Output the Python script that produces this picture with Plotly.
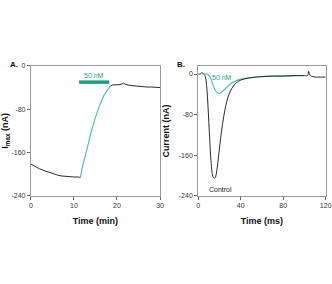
import plotly.graph_objects as go

# ---------- Panel A data (time in min, Imax in nA) ----------
a_pre_t = [0, 1, 2, 3, 4, 5, 6, 7, 8, 9, 10, 11, 11.5]
a_pre_v = [-181, -186, -190, -193, -196, -199, -201, -203, -204, -205, -205, -205, -206]
a_drug_t = [11.5, 12, 13, 14, 15, 16, 17, 18, 18.5]
a_drug_v = [-206, -185, -155, -122, -95, -72, -54, -41, -37]
a_post_t = [18.5, 19, 20, 21, 21.5, 22, 23, 24, 25, 26, 27, 28, 29, 30]
a_post_v = [-37, -35, -35, -34, -32, -34, -36, -37, -38, -38, -39, -39, -40, -40]
a_bar_t = [11.2, 18.2]
a_bar_v = [-30, -30]

# ---------- Panel B data (time in ms, current in nA) ----------
b_ctrl_t = [0, 2, 3, 4, 5, 6, 7, 8, 9, 10, 11, 12, 13, 14, 15, 16, 17, 18, 19, 20,
            22, 24, 26, 28, 30, 33, 36, 40, 45, 50, 60, 70, 80, 90, 100, 103, 104,
            105, 106, 108, 110, 115, 120]
b_ctrl_v = [0, 0, 2, 2, 0, -2, -8, -25, -55, -95, -135, -170, -193, -203, -205, -204,
            -197, -183, -165, -146, -112, -84, -62, -46, -35, -24, -17, -12, -9, -7,
            -5, -4, -4, -3, -3, -3, 5, -1, -4, -5, -6, -6, -6]
b_drug_t = [5, 8, 10, 12, 14, 16, 18, 20, 22, 24, 27, 30, 35, 40, 50, 60, 80, 100]
b_drug_v = [0, 0, -3, -10, -22, -32, -37, -38, -36, -32, -26, -20, -14, -10, -7, -5, -4, -3]

a_xticks = [0, 10, 20, 30]
a_yticks = [0, -80, -160, -240]
b_xticks = [0, 40, 80, 120]
b_yticks = [0, -80, -160, -240]

BLACK = "#2b2b2b"
TEAL = "#4fc4b0"
TEAL_DARK = "#1c9e82"
FONT = "Liberation Sans"

fig = go.Figure()
fig.add_trace(go.Scatter(x=a_pre_t, y=a_pre_v, mode="lines", line=dict(color=BLACK, width=1), xaxis="x", yaxis="y"))
fig.add_trace(go.Scatter(x=a_drug_t, y=a_drug_v, mode="lines", line=dict(color=TEAL, width=1.2), xaxis="x", yaxis="y"))
fig.add_trace(go.Scatter(x=a_post_t, y=a_post_v, mode="lines", line=dict(color=BLACK, width=1), xaxis="x", yaxis="y"))
fig.add_trace(go.Scatter(x=a_bar_t, y=a_bar_v, mode="lines", line=dict(color=TEAL_DARK, width=3.5), xaxis="x", yaxis="y"))

fig.add_trace(go.Scatter(x=b_drug_t, y=b_drug_v, mode="lines", line=dict(color=TEAL, width=1.2, shape="spline"), xaxis="x2", yaxis="y2"))
fig.add_trace(go.Scatter(x=b_ctrl_t, y=b_ctrl_v, mode="lines", line=dict(color=BLACK, width=1, shape="spline"), xaxis="x2", yaxis="y2"))

tickfont = dict(family=FONT, size=7, color="#333")
titlefont = dict(family=FONT, size=9, color="#111")
common = dict(showgrid=False, zeroline=False, showline=True, mirror=True, linecolor="#9a9a9a",
              linewidth=1, ticks="outside", ticklen=3, tickcolor="#666", tickfont=tickfont,
              title_font=titlefont, automargin=False)

fig.update_layout(
    width=332, height=284, autosize=False, showlegend=False,
    margin=dict(l=0, r=0, t=0, b=0),
    paper_bgcolor="white", plot_bgcolor="white",
    xaxis=dict(domain=[0.093, 0.482], range=[0, 30], tickvals=a_xticks,
               ticktext=[str(v) for v in a_xticks], anchor="y",
               title=dict(text="<b>Time (min)</b>", standoff=9), **common),
    yaxis=dict(domain=[0.31, 0.768], range=[-240, 0], tickvals=a_yticks,
               ticktext=[str(v) for v in a_yticks], anchor="x",
               title=dict(text="<b>I<sub>max</sub> (nA)</b>", standoff=9), **common),
    xaxis2=dict(domain=[0.597, 0.981], range=[0, 120], tickvals=b_xticks,
                ticktext=[str(v) for v in b_xticks], anchor="y2",
                title=dict(text="<b>Time (ms)</b>", standoff=9), **common),
    yaxis2=dict(domain=[0.31, 0.768], range=[-240, 16], tickvals=b_yticks,
                ticktext=[str(v) for v in b_yticks], anchor="x2",
                title=dict(text="<b>Current (nA)</b>", standoff=7), **common),
    annotations=[
        dict(text="<b>A.</b>", x=0.025, y=0.772, xref="paper", yref="paper", showarrow=False,
             xanchor="left", yanchor="middle", font=dict(family=FONT, size=8, color="#111")),
        dict(text="<b>B.</b>", x=0.527, y=0.772, xref="paper", yref="paper", showarrow=False,
             xanchor="left", yanchor="middle", font=dict(family=FONT, size=8, color="#111")),
        dict(text="50 nM", x=14.7, y=-18, xref="x", yref="y", showarrow=False,
             font=dict(family=FONT, size=7, color=TEAL_DARK)),
        dict(text="50 nM", x=22, y=-6, xref="x2", yref="y2", showarrow=False,
             font=dict(family=FONT, size=7, color=TEAL_DARK)),
        dict(text="Control", x=21, y=-228, xref="x2", yref="y2", showarrow=False,
             font=dict(family=FONT, size=7, color="#222")),
    ],
)

fig.write_html("out.html")
